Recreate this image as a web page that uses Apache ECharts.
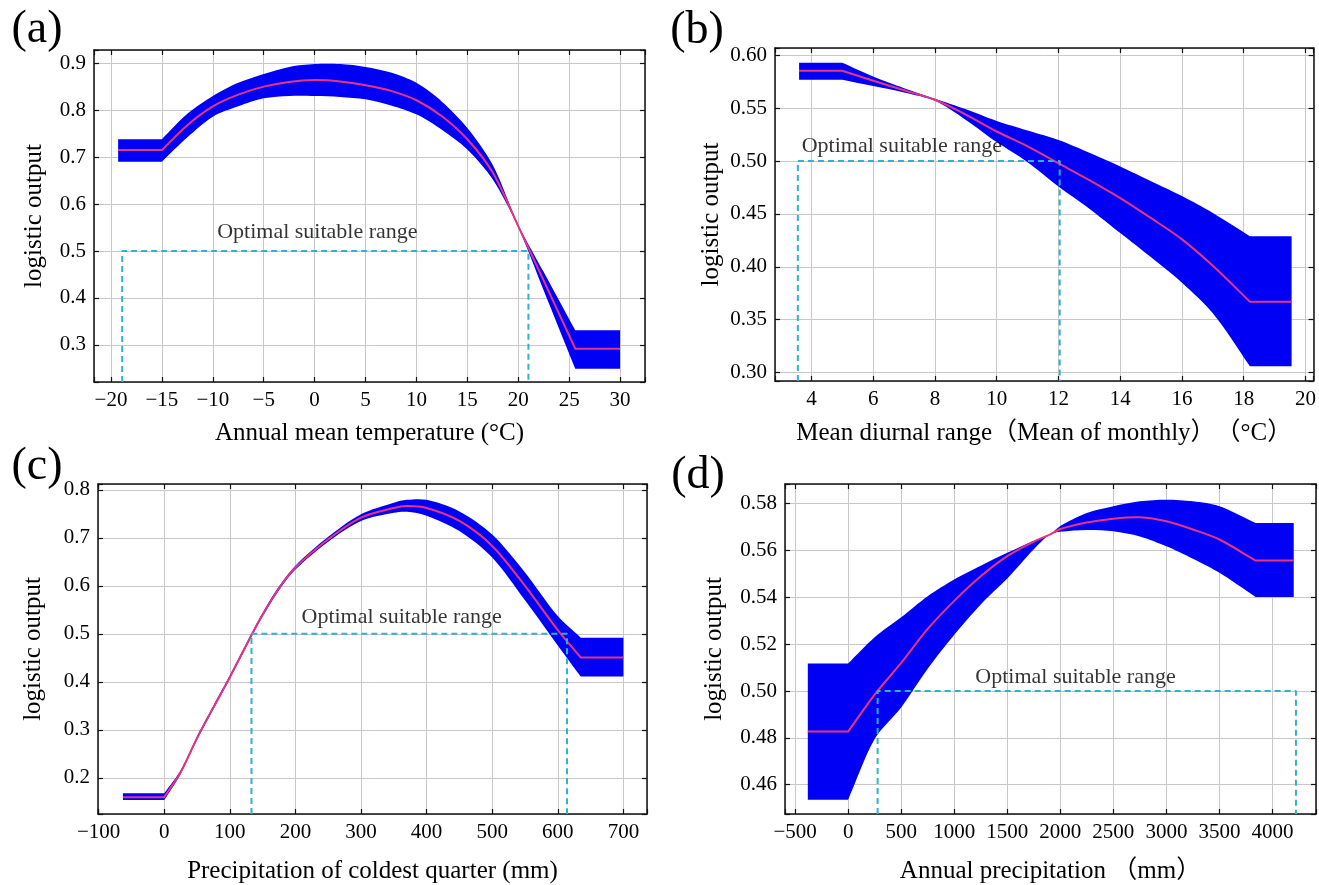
<!DOCTYPE html>
<html>
<head>
<meta charset="utf-8">
<script src="https://cdn.jsdelivr.net/npm/echarts@6/dist/echarts.min.js"></script>
<style>
  html, body { margin: 0; background: #fff; }
  #chart { width: 1319px; height: 885px; }
</style>
</head>
<body>
<div id="chart"></div>
<script>
// (a) annual mean temperature
const aX     = [-19.3, -15, -12.5, -10, -7.5, -5, -2.5, 0, 2.5, 5, 7.5, 10, 12.5, 15, 17.5, 20, 22.5, 25.6, 30];
const aMean  = [0.715, 0.715, 0.768, 0.808, 0.833, 0.850, 0.860, 0.864, 0.861, 0.853, 0.841, 0.821, 0.787, 0.738, 0.667, 0.553, 0.437, 0.292, 0.292];
const aUpper = [0.738, 0.738, 0.792, 0.830, 0.858, 0.877, 0.892, 0.898, 0.898, 0.892, 0.880, 0.858, 0.818, 0.762, 0.683, 0.556, 0.455, 0.331, 0.331];
const aLower = [0.690, 0.690, 0.742, 0.786, 0.808, 0.825, 0.830, 0.830, 0.828, 0.823, 0.810, 0.791, 0.758, 0.716, 0.652, 0.550, 0.416, 0.249, 0.249];
const aRange = [-18.9, 21.0];

// (b) mean diurnal range
const bX     = [3.6, 5, 6, 7, 8, 9, 10, 11, 12, 13, 14, 15, 16, 17, 18.2, 19.55];
const bMean  = [0.5855, 0.5855, 0.576, 0.567, 0.558, 0.544, 0.528, 0.514, 0.498, 0.482, 0.465, 0.446, 0.426, 0.401, 0.367, 0.367];
const bUpper = [0.593, 0.593, 0.580, 0.569, 0.559, 0.549, 0.538, 0.529, 0.520, 0.508, 0.495, 0.481, 0.467, 0.451, 0.429, 0.429];
const bLower = [0.577, 0.577, 0.571, 0.565, 0.557, 0.539, 0.518, 0.499, 0.476, 0.455, 0.432, 0.409, 0.385, 0.356, 0.306, 0.306];
const bRange = [3.56, 12.04];

// (c) precipitation of coldest quarter
const cX     = [-63, 0, 25, 50, 75, 100, 134, 150, 175, 200, 250, 300, 350, 370, 400, 450, 500, 550, 600, 635, 700];
const cMean  = [0.160, 0.160, 0.212, 0.283, 0.347, 0.410, 0.500, 0.540, 0.595, 0.638, 0.697, 0.742, 0.762, 0.766, 0.762, 0.735, 0.683, 0.600, 0.508, 0.451, 0.451];
const cUpper = [0.168, 0.168, 0.216, 0.287, 0.351, 0.414, 0.504, 0.544, 0.599, 0.642, 0.702, 0.749, 0.773, 0.779, 0.779, 0.755, 0.707, 0.628, 0.537, 0.492, 0.492];
const cLower = [0.154, 0.154, 0.208, 0.279, 0.343, 0.406, 0.496, 0.536, 0.591, 0.634, 0.692, 0.735, 0.752, 0.754, 0.746, 0.714, 0.659, 0.570, 0.476, 0.411, 0.411];
const cRange = [133, 614];

// (d) annual precipitation
const dX     = [-380, 0, 250, 500, 750, 1000, 1250, 1500, 1750, 1900, 2000, 2250, 2500, 2750, 3000, 3250, 3500, 3840, 4200];
const dMean  = [0.4827, 0.4827, 0.4985, 0.512, 0.5265, 0.5385, 0.549, 0.5576, 0.5638, 0.5668, 0.5692, 0.572, 0.5736, 0.5742, 0.5725, 0.569, 0.5647, 0.5557, 0.5557];
const dUpper = [0.5118, 0.5118, 0.523, 0.5315, 0.5405, 0.5476, 0.5535, 0.559, 0.5642, 0.5668, 0.5705, 0.576, 0.5789, 0.581, 0.5817, 0.581, 0.5789, 0.5718, 0.5718];
const dLower = [0.4536, 0.4536, 0.4795, 0.493, 0.5095, 0.524, 0.537, 0.548, 0.5605, 0.5668, 0.568, 0.5688, 0.5682, 0.566, 0.5618, 0.5565, 0.5505, 0.5402, 0.5402];
const dRange = [278, 4221];

const OPT_LEVEL = 0.5;
const NOTE = 'Optimal suitable range';

const FONT = "'Liberation Serif', 'Noto Sans CJK SC', serif";
const BLUE = '#0000f5', RED = '#e8347e', CYAN = '#2fb3cc';

const panels = [
  { tag: '(a)', tagAt: [37, 30], box: [94, 50, 551, 332], xr: [-21.67, 32.45], yr: [0.221, 0.928], xs: 5, ys: 0.1, yd: 1,
    x: aX, mean: aMean, up: aUpper, lo: aLower, range: aRange, note: [0.27, 0.54],
    xName: 'Annual mean temperature (°C)', xGap: 39, yGap: 47 },
  { tag: '(b)', tagAt: [697, 31], box: [775, 48, 540, 333], xr: [2.82, 20.26], yr: [0.292, 0.607], xs: 2, ys: 0.05, yd: 2,
    x: bX, mean: bMean, up: bUpper, lo: bLower, range: bRange, note: [6.93, 0.514],
    xName: 'Mean diurnal range（Mean of monthly）　（°C）', xGap: 40, yGap: 51 },
  { tag: '(c)', tagAt: [37, 467], box: [98, 484, 549, 333], xr: [-101, 736], yr: [0.125, 0.812], xs: 100, ys: 0.1, yd: 1,
    x: cX, mean: cMean, up: cUpper, lo: cLower, range: cRange, note: [362, 0.534],
    xName: 'Precipitation of coldest quarter (mm)', xGap: 45, yGap: 52 },
  { tag: '(d)', tagAt: [698, 476], box: [785, 484, 533, 331], xr: [-595, 4410], yr: [0.4475, 0.5884], xs: 500, ys: 0.02, yd: 2,
    x: dX, mean: dMean, up: dUpper, lo: dLower, range: dRange, note: [2143, 0.5057],
    xName: 'Annual precipitation （mm）', xGap: 45, yGap: 58 }
];

// label only the round ticks, not the axis ends
const tickFmt = (step, dec) => v => {
  const k = v / step;
  if (Math.abs(k - Math.round(k)) > 1e-6) return '';
  return (Math.round(k) * step).toFixed(dec).replace('-', '−');
};

// repeat the end and knee points so the smoothing keeps those corners sharp
const sharp = pts => pts.flatMap((pt, k) => (k <= 1 || k >= pts.length - 2) ? [pt, pt] : [pt]);

const grid = [], xAxis = [], yAxis = [], series = [], graphic = [];

panels.forEach((p, i) => {
  grid.push({ left: p.box[0], top: p.box[1], width: p.box[2], height: p.box[3] });

  const line = { show: true, onZero: false, lineStyle: { color: '#111', width: 1.5 } };
  const tick = { show: true, inside: true, length: 5, lineStyle: { color: '#111', width: 1.2 } };
  const split = { show: true, lineStyle: { color: '#c8c8c8', width: 1 } };
  const lab = { color: '#000', fontFamily: FONT, fontSize: 21, margin: 8 };

  const xBase = { type: 'value', gridIndex: i, min: p.xr[0], max: p.xr[1], minInterval: p.xs, maxInterval: p.xs, axisLine: line, axisTick: tick };
  const yBase = { type: 'value', gridIndex: i, min: p.yr[0], max: p.yr[1], minInterval: p.ys, maxInterval: p.ys, axisLine: line, axisTick: tick };

  xAxis.push(Object.assign({}, xBase, {
    position: 'bottom', splitLine: split,
    axisLabel: Object.assign({}, lab, { formatter: tickFmt(p.xs, 0) }),
    name: p.xName, nameLocation: 'middle', nameGap: p.xGap,
    nameTextStyle: { color: '#000', fontFamily: FONT, fontSize: 25 }
  }));
  xAxis.push(Object.assign({}, xBase, { position: 'top', splitLine: { show: false }, axisLabel: { show: false } }));

  yAxis.push(Object.assign({}, yBase, {
    position: 'left', splitLine: split,
    axisLabel: Object.assign({}, lab, { formatter: tickFmt(p.ys, p.yd) }),
    name: 'logistic output', nameLocation: 'middle', nameGap: p.yGap, nameRotate: 90,
    nameTextStyle: { color: '#000', fontFamily: FONT, fontSize: 25 }
  }));
  yAxis.push(Object.assign({}, yBase, { position: 'right', splitLine: { show: false }, axisLabel: { show: false } }));

  const xi = i * 2, yi = i * 2;

  // confidence band (upper edge forward, lower edge back) and the mean curve on top
  series.push({
    type: 'custom', xAxisIndex: xi, yAxisIndex: yi, silent: true, z: 2,
    data: [[p.x[0], p.mean[0]]],
    renderItem: (params, api) => {
      const up = p.x.map((x, k) => api.coord([x, p.up[k]]));
      const lo = p.x.map((x, k) => api.coord([x, p.lo[k]])).reverse();
      const mid = p.x.map((x, k) => api.coord([x, p.mean[k]]));
      return {
        type: 'group',
        children: [
          { type: 'polygon', shape: { points: sharp(up).concat(sharp(lo)), smooth: 0.3 }, style: { fill: BLUE } },
          { type: 'polyline', shape: { points: sharp(mid), smooth: 0.3 }, style: { stroke: RED, lineWidth: 2, fill: null } }
        ]
      };
    }
  });

  series.push({
    type: 'line', xAxisIndex: xi, yAxisIndex: yi, z: 4, silent: true,
    data: [[p.range[0], p.yr[0]], [p.range[0], OPT_LEVEL], [p.range[1], OPT_LEVEL], [p.range[1], p.yr[0]]],
    symbol: 'none', lineStyle: { color: CYAN, width: 2, type: [6, 4] }
  });

  series.push({
    type: 'scatter', xAxisIndex: xi, yAxisIndex: yi, z: 5, silent: true,
    data: [p.note], symbolSize: 1, itemStyle: { color: 'rgba(0,0,0,0)' },
    label: { show: true, position: 'inside', formatter: NOTE, color: '#000', fontFamily: FONT, fontSize: 22 }
  });

  graphic.push({
    type: 'text', x: p.tagAt[0], y: p.tagAt[1],
    style: { text: p.tag, fill: '#000', font: '46px ' + FONT, align: 'center', verticalAlign: 'middle' }
  });
});

const chart = echarts.init(document.getElementById('chart'));
chart.setOption({
  backgroundColor: '#fff',
  animation: false,
  grid, xAxis, yAxis, series, graphic
});
</script>
</body>
</html>
